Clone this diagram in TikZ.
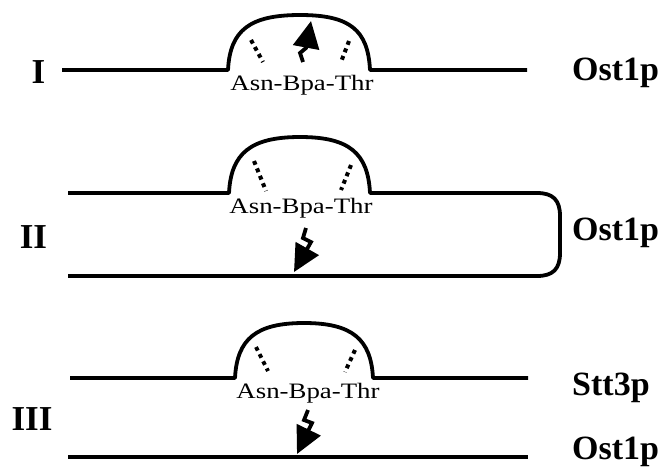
\documentclass[tikz,border=0pt]{standalone}
\usepackage{fontspec}
\setmainfont{Liberation Serif}
\usetikzlibrary{arrows.meta}
\begin{document}
\begin{tikzpicture}[x=1pt,y=-1pt,
  strand/.style={line width=3.8pt,line join=round},
  dots/.style={line width=4pt,dash pattern=on 4pt off 4pt},
  xlink/.style={line width=3.8pt,-{Triangle[length=27pt,width=26pt]}},
  seq/.style={inner sep=0pt,anchor=base,font=\fontsize{22}{24}\selectfont},
  lab/.style={inner sep=0pt,anchor=base,font=\fontsize{35}{38}\selectfont\bfseries},
  prot/.style={inner sep=0pt,anchor=base west,font=\fontsize{34}{38}\selectfont\bfseries}]
\fill[white] (0,0) rectangle (663,466);
\useasboundingbox (0,0) rectangle (663,466);

% ---------- Row I ----------
\draw[strand] (62,70) -- (228,70) .. controls (230,30) and (250,15) .. (300,15)
  .. controls (350,15) and (368,30) .. (370,70) -- (527,70);
\draw[dots] (251,40) -- (263,62);
\draw[dots] (349,41) -- (341,62);
\coordinate (a1) at (303,62);
\coordinate (a1t) at (311,21);
\draw[xlink] (a1) -- (300,53) -- (306,48) -- (a1t);
\node[seq] (s1) at (302,90) {\scalebox{1.22}[1]{Asn-Bpa-Thr}};
\node[lab] (l1) at (38.5,83) {I};
\node[prot] (p1) at (572,80) {Ost1p};

% ---------- Row II ----------
\draw[strand] (68,193) -- (229,193) .. controls (231,153) and (251,137) .. (300,137)
  .. controls (349,137) and (368,153) .. (370,193) -- (537,193)
  .. controls (553,193) and (560,200) .. (560,216) -- (560,253)
  .. controls (560,269) and (553,276) .. (537,276) -- (68,276);
\draw[dots] (254,161) -- (266,191);
\draw[dots] (351,165) -- (341,190);
\coordinate (a2) at (306,228);
\coordinate (a2t) at (294,272);
\draw[xlink] (a2) -- (303,238) -- (311,242) -- (a2t);
\node[seq] (s2) at (301,213) {\scalebox{1.22}[1]{Asn-Bpa-Thr}};
\node[lab] (l2) at (33.5,248) {II};
\node[prot] (p2) at (572,240) {Ost1p};

% ---------- Row III ----------
\draw[strand] (70,378) -- (235,378) .. controls (237,339) and (256,323) .. (304,323)
  .. controls (352,323) and (371,339) .. (373,378) -- (528,378);
\draw[strand] (68,457) -- (528,457);
\draw[dots] (256,347) -- (268,371);
\draw[dots] (355,350) -- (345,372);
\coordinate (a3) at (308,410);
\coordinate (a3t) at (297,454);
\draw[xlink] (a3) -- (304,420) -- (312,423) -- (a3t);
\node[seq] (s3) at (308,398) {\scalebox{1.22}[1]{Asn-Bpa-Thr}};
\node[lab] (l3) at (32,430) {III};
\node[prot] (p3) at (572,395) {Stt3p};
\node[prot] (p4) at (572,459) {Ost1p};
\end{tikzpicture}
\end{document}
